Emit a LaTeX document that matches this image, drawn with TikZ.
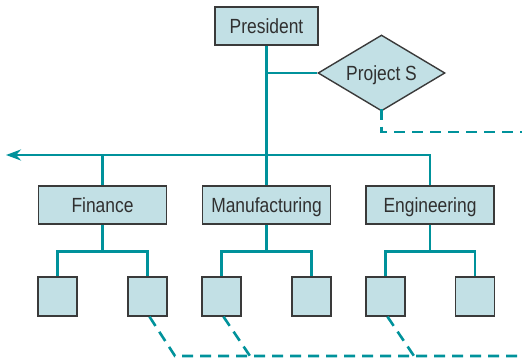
\documentclass[tikz,border=0pt]{standalone}
\usepackage{fontspec}
\setmainfont{Liberation Sans}[FakeStretch=0.85]
\usetikzlibrary{shapes.geometric,arrows.meta}
\definecolor{teal1}{HTML}{00929B}
\definecolor{boxfill}{HTML}{C2E0E5}
\definecolor{boxline}{HTML}{3A3A3A}
\definecolor{txt}{HTML}{303030}
\tikzset{
  unitbox/.style={draw=boxline, line width=1.4pt, fill=boxfill, text=txt, inner sep=0pt,
    font=\fontsize{20.5}{23}\selectfont, text height=14.5pt, text depth=0pt},
  bigbox/.style={unitbox, minimum width=128pt, minimum height=38pt},
  presbox/.style={unitbox, minimum width=103pt, minimum height=38pt},
  smallbox/.style={unitbox, minimum width=39pt, minimum height=39pt},
  projbox/.style={unitbox, shape=diamond, aspect=1.67, minimum width=127pt, minimum height=76pt},
  link/.style={draw=teal1, line width=2.6pt},
  dlink/.style={draw=teal1, line width=2.6pt, dash pattern=on 11pt off 7pt},
}
\begin{document}
\begin{tikzpicture}[x=1pt,y=-1pt]
\useasboundingbox (0,0) rectangle (522,359);
% nodes
\node[presbox] (pres) at (266.5,26) {President};
\node[projbox] (proj) at (381.5,73) {Project S};
\node[bigbox] (fin) at (102.5,205) {Finance};
\node[bigbox] (mfg) at (266.5,205) {Manufacturing};
\node[bigbox] (eng) at (430,205) {Engineering};
\node[smallbox] (f1) at (57.5,296.5) {};
\node[smallbox] (f2) at (147.5,296.5) {};
\node[smallbox] (m1) at (221.5,296.5) {};
\node[smallbox] (m2) at (311.5,296.5) {};
\node[smallbox] (e1) at (385.5,296.5) {};
\node[smallbox] (e2) at (475,296.5) {};
\coordinate (arrowend) at (6,155);
\coordinate (pdash) at (522,132);
\coordinate (bdash) at (522,356);
\coordinate (k1) at (175,356);
\coordinate (k2) at (250,356);
\coordinate (k3) at (414,356);
% solid connectors
\path[link] (pres.south) -- (mfg.north);
\path[link] (pres.south |- proj.west) -- (proj.west);
\path[link,-{Stealth[length=15pt,width=11pt]}] (eng.north) |- (arrowend);
\path[link] (fin.north) -- (fin.north |- arrowend);
\path[link] (fin.south) -- ++(0,27) -| (f1.north);
\path[link] (fin.south) ++(0,27) -| (f2.north);
\path[link] (mfg.south) -- ++(0,27) -| (m1.north);
\path[link] (mfg.south) ++(0,27) -| (m2.north);
\path[link] (eng.south) -- ++(0,27) -| (e1.north);
\path[link] (eng.south) ++(0,27) -| (e2.north);
% dashed connectors
\path[dlink] ([yshift=3pt]proj.south) |- (pdash);
\path[dlink] ([xshift=2pt]f2.south) -- (k1) -- (bdash);
\path[dlink] ([xshift=2pt]m1.south) -- (k2);
\path[dlink] ([xshift=2pt]e1.south) -- (k3);
\end{tikzpicture}
\end{document}
